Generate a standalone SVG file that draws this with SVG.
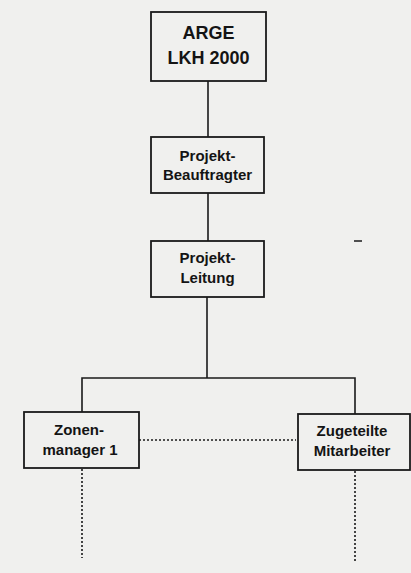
<svg xmlns="http://www.w3.org/2000/svg" width="411" height="573" viewBox="0 0 411 573">
<style>
.box{fill:#f0f0ee;stroke:#1a1a1a;stroke-width:1.8}
.t{font-family:"Liberation Sans",Arial,sans-serif;font-weight:bold;fill:#141414;text-anchor:middle}
.s{font-size:15px}
.l{font-size:18px}
.c{stroke:#1a1a1a;stroke-width:1.6;fill:none}
.d{stroke:#1a1a1a;stroke-width:1.6;fill:none;stroke-dasharray:2 2}
</style>
<rect width="411" height="573" fill="#f0f0ee"/>
<g id="connectors">
<line class="c" x1="208" y1="81" x2="208" y2="137"/>
<line class="c" x1="208" y1="193" x2="208" y2="241"/>
<line class="c" x1="207" y1="297" x2="207" y2="378"/>
<polyline class="c" points="82,412 82,378 355,378 355,414"/>
<line class="d" x1="139" y1="440" x2="296" y2="440"/>
<line class="d" x1="82" y1="469" x2="82" y2="558"/>
<line class="d" x1="355" y1="471" x2="355" y2="561"/>
</g>
<g id="arge">
<rect class="box" x="151" y="12" width="115" height="69"/>
<text class="t l" x="208.5" y="39">ARGE</text>
<text class="t l" x="208.5" y="64">LKH 2000</text>
</g>
<g id="beauftragter">
<rect class="box" x="151" y="137" width="113" height="56"/>
<text class="t s" x="207.5" y="161">Projekt-</text>
<text class="t s" x="207.5" y="180">Beauftragter</text>
</g>
<g id="leitung">
<rect class="box" x="151" y="241" width="113" height="56"/>
<text class="t s" x="207.5" y="263">Projekt-</text>
<text class="t s" x="207.5" y="283">Leitung</text>
</g>
<g id="zonenmanager">
<rect class="box" x="24" y="412" width="115" height="56"/>
<text class="t s" x="79" y="435">Zonen-</text>
<text class="t s" x="80" y="455">manager 1</text>
</g>
<g id="mitarbeiter">
<rect class="box" x="298" y="414" width="112" height="56"/>
<text class="t s" x="352" y="436">Zugeteilte</text>
<text class="t s" x="352" y="456">Mitarbeiter</text>
</g>
<line x1="354" y1="241" x2="362" y2="241" stroke="#1a1a1a" stroke-width="1.5"/>
</svg>
